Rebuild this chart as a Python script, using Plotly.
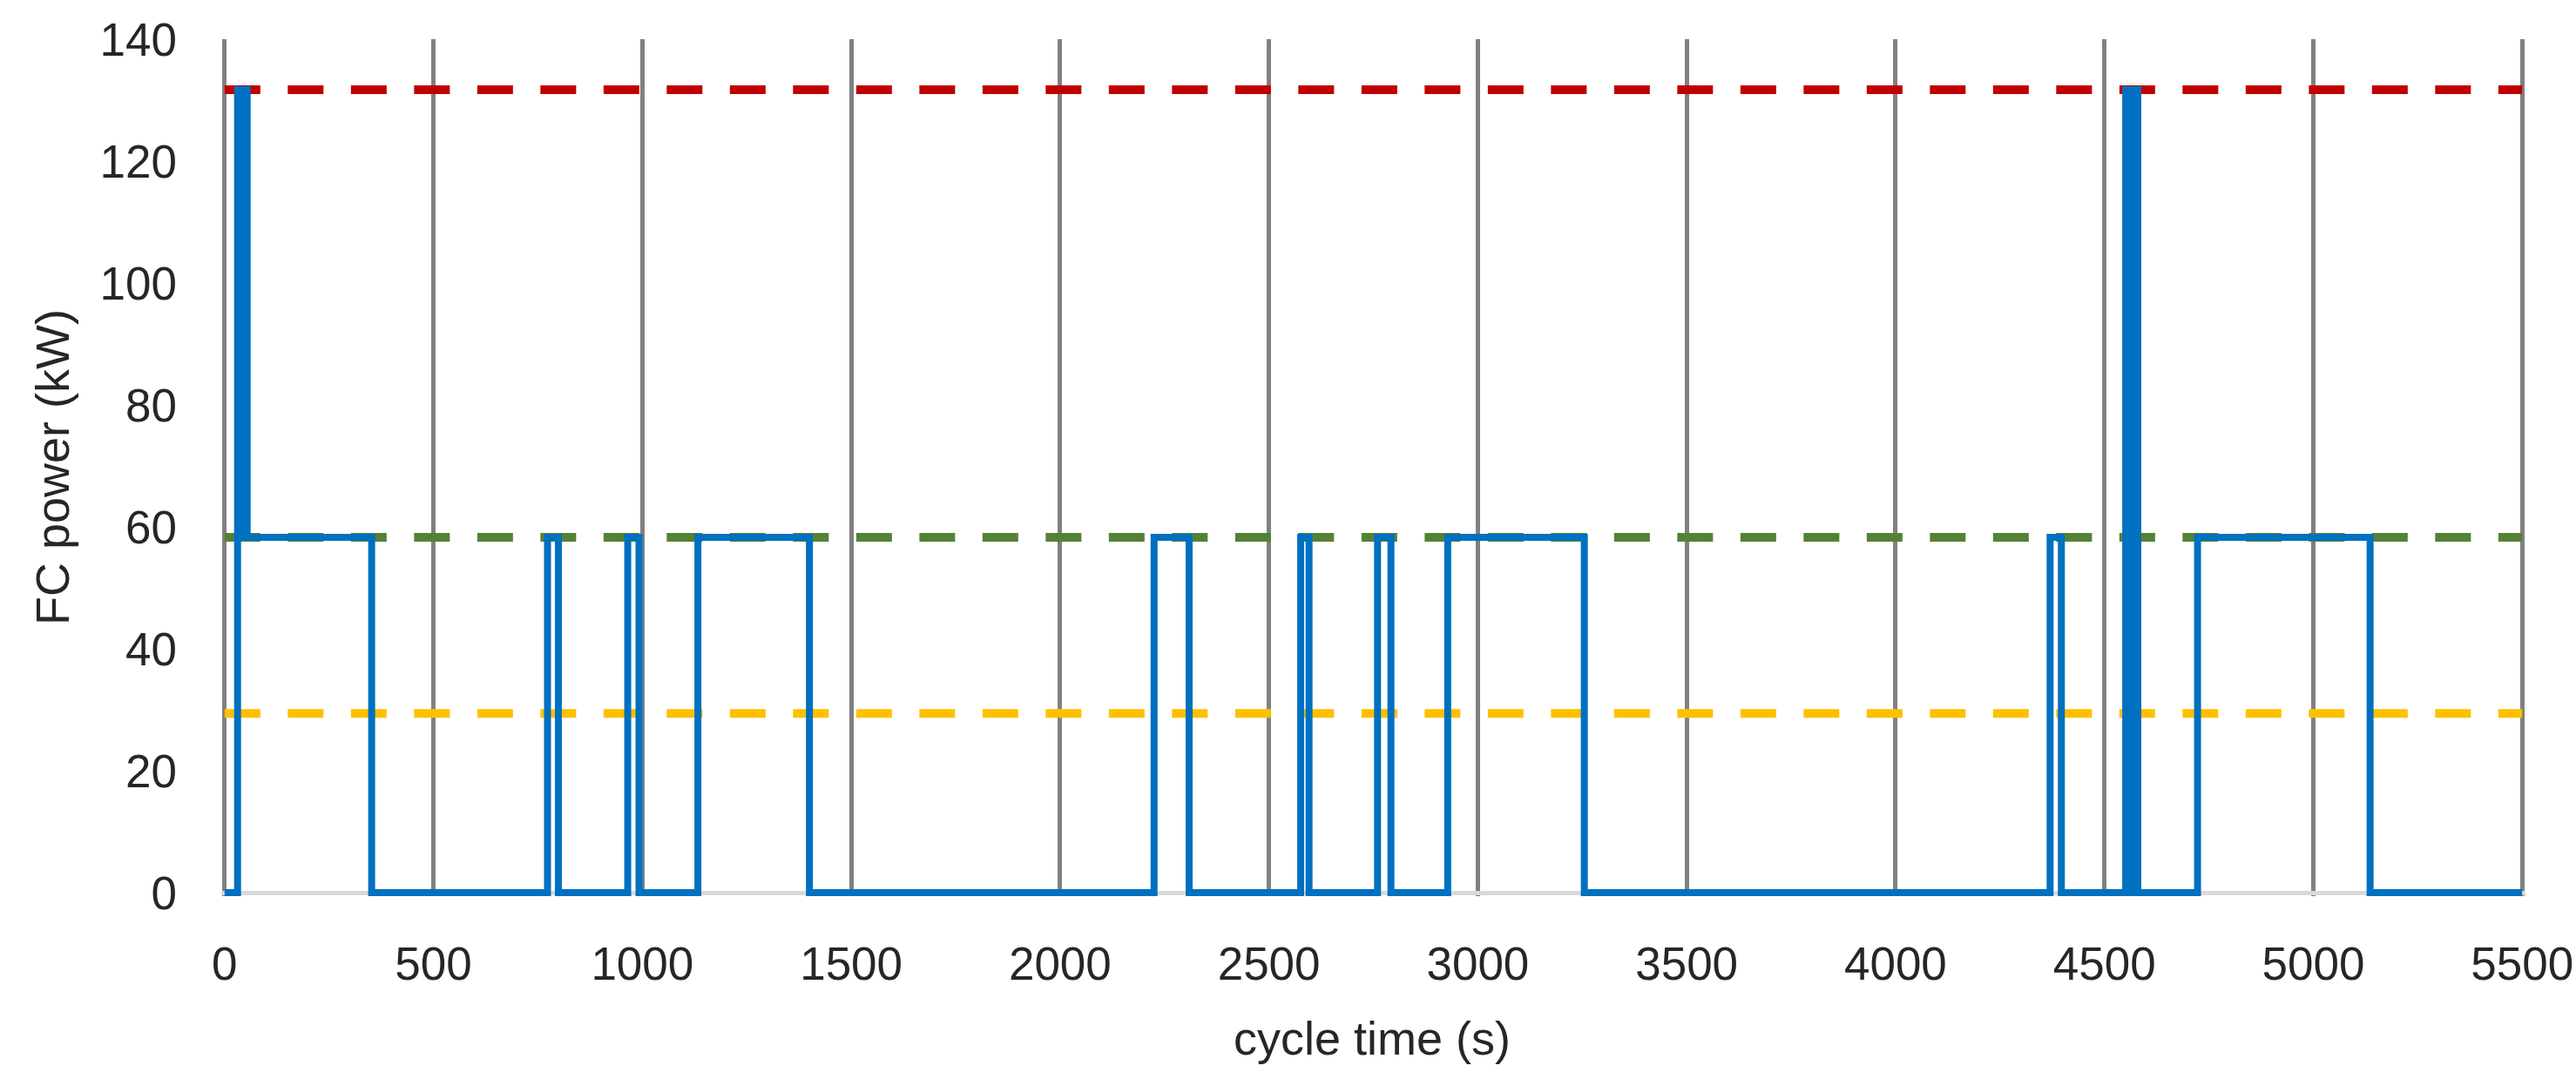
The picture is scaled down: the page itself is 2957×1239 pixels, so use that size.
import plotly.graph_objects as go

# FC power profile over the cycle: step changes (time in s, power in kW, held until next time)
cycle_time = [0, 31, 40, 44, 54, 352,
              773, 799,
              965, 992,
              1133, 1400,
              2225, 2309,
              2576, 2596,
              2760, 2792,
              2928, 3255,
              4370, 4397,
              4551, 4560, 4566, 4580,
              4723, 5136, 5500]
fc_power = [0, 131.7, 58.3, 131.7, 58.3, 0,
            58.3, 0,
            58.3, 0,
            58.3, 0,
            58.3, 0,
            58.3, 0,
            58.3, 0,
            58.3, 0,
            58.3, 0,
            131.7, 0, 131.7, 0,
            58.3, 0, 0]

# reference power levels (kW)
level_names = ["max", "rated", "low"]
level_values = [131.7, 58.3, 29.4]
level_colours = ["#C00000", "#548235", "#FFC000"]

x_ticks = list(range(0, 5501, 500))
y_ticks = list(range(0, 141, 20))
x_span = [0, 5500]

FONT = "Liberation Sans, Arial, sans-serif"
TEXT = "#262626"

fig = go.Figure()
for name, val, col in zip(level_names, level_values, level_colours):
    fig.add_trace(go.Scatter(
        x=x_span, y=[val, val], mode="lines", name=name,
        line=dict(color=col, width=10, dash="41px,31.5px"),
        showlegend=False,
    ))

fig.add_trace(go.Scatter(
    x=cycle_time, y=fc_power, mode="lines", line_shape="hv",
    line=dict(color="#0070C0", width=8), showlegend=False,
))

W, H = 2957, 1239
ML, MR, MT, MB = 254, 58, 45, 210
PW, PH = W - ML - MR, H - MT - MB
fig.update_layout(
    width=W, height=H,
    margin=dict(l=ML, r=MR, t=MT, b=MB, autoexpand=False),
    plot_bgcolor="white", paper_bgcolor="white",
    font=dict(family=FONT, size=53, color=TEXT),
    xaxis=dict(
        range=[-8, 5508], tickvals=x_ticks, showgrid=True,
        gridcolor="#808080", gridwidth=4.5, zeroline=False,
        showline=False, ticks="", ticklabelstandoff=42,
        ticklabeloverflow="allow",
        tickfont=dict(size=53, color=TEXT),
    ),
    yaxis=dict(
        range=[-4 / 7, 140], tickvals=y_ticks, showgrid=False,
        zeroline=True, zerolinecolor="#D9D9D9", zerolinewidth=5,
        showline=False, ticks="", ticklabelstandoff=50,
        tickfont=dict(size=53, color=TEXT),
    ),
    annotations=[
        dict(text="cycle time (s)", xref="paper", yref="paper",
             x=(1575 - ML) / PW, y=(H - MB - 1192) / PH,
             xanchor="center", yanchor="middle",
             showarrow=False, font=dict(size=54, color=TEXT)),
        dict(text="FC power (kW)", xref="paper", yref="paper",
             x=(60 - ML) / PW, y=0.5, xanchor="center", yanchor="middle",
             textangle=-90, showarrow=False, font=dict(size=54, color=TEXT)),
    ],
)

# drop the default 8px page margin so the figure fills the window exactly
fig.write_html(
    "out.html",
    config={"displayModeBar": False},
    post_script="document.body.style.margin = '0px';",
)
